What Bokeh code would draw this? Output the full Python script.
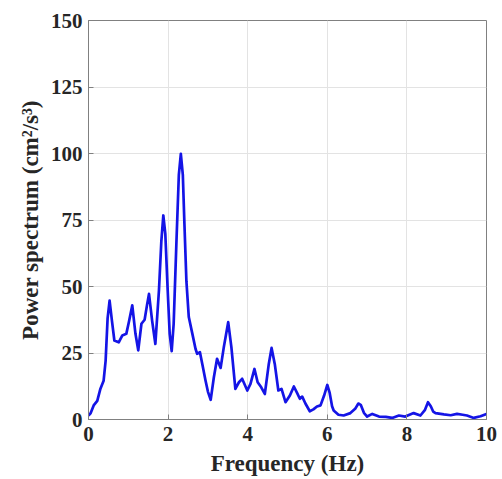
from bokeh.plotting import figure
from bokeh.embed import file_html
from bokeh.resources import INLINE
from bokeh.models import Range1d, FixedTicker

freq = [0.0, 0.05, 0.13, 0.22, 0.30, 0.38, 0.43, 0.48, 0.53, 0.59, 0.65, 0.76, 0.85, 0.95,
        1.02, 1.10, 1.18, 1.25, 1.33, 1.41, 1.47, 1.52, 1.60, 1.68, 1.77, 1.83, 1.88, 1.93,
        1.99, 2.04, 2.09, 2.14, 2.21, 2.27, 2.32, 2.37, 2.41, 2.46, 2.52, 2.61, 2.69, 2.73,
        2.80, 2.87, 2.94, 3.00, 3.07, 3.15, 3.23, 3.32, 3.40, 3.51, 3.59, 3.69, 3.78, 3.86,
        3.99, 4.07, 4.17, 4.25, 4.34, 4.43, 4.53, 4.60, 4.68, 4.77, 4.85, 4.95, 5.06, 5.16,
        5.24, 5.31, 5.37, 5.45, 5.56, 5.65, 5.74, 5.83, 5.92, 6.00, 6.06, 6.12, 6.16, 6.28,
        6.41, 6.58, 6.70, 6.78, 6.84, 6.92, 7.00, 7.13, 7.30, 7.47, 7.63, 7.80, 7.96, 8.17,
        8.34, 8.45, 8.53, 8.60, 8.66, 8.72, 8.93, 9.10, 9.26, 9.40, 9.51, 9.68, 9.85, 10.0]
power = [1.5, 2.3, 5.3, 7.0, 11.6, 14.6, 22.0, 38.0, 44.7, 37.0, 29.7, 29.0, 31.6, 32.2,
         37.0, 42.9, 32.2, 26.0, 36.0, 37.5, 43.0, 47.2, 37.0, 28.4, 48.5, 67.0, 76.7, 69.8,
         48.5, 32.2, 25.7, 36.0, 67.0, 92.0, 99.9, 92.0, 73.6, 52.0, 38.5, 32.2, 26.5, 24.7,
         25.3, 20.0, 14.7, 10.5, 7.4, 15.9, 22.8, 19.4, 27.2, 36.6, 27.2, 11.5, 14.0, 15.3,
         10.9, 13.4, 19.0, 14.0, 12.1, 9.6, 20.9, 26.9, 20.9, 10.9, 11.5, 6.5, 9.0, 12.4,
         10.0, 7.8, 8.6, 6.0, 3.1, 3.8, 4.9, 5.3, 9.0, 13.0, 10.0, 5.0, 3.4, 1.8,
         1.5, 2.4, 4.0, 6.0, 5.5, 2.5, 1.1, 2.1, 1.1, 1.0, 0.6, 1.5, 1.1, 2.4,
         1.5, 3.5, 6.5, 5.0, 3.0, 2.4, 1.9, 1.6, 2.1, 1.8, 1.5, 0.6, 1.2, 2.1]

x_ticks = [0, 2, 4, 6, 8, 10]
y_ticks = [0, 25, 50, 75, 100, 125, 150]

font = "Liberation Serif"

p = figure(width=502, height=479, output_backend="svg", toolbar_location=None,
           x_range=Range1d(0, 10), y_range=Range1d(0, 150),
           min_border_left=88, min_border_right=16, min_border_top=20, min_border_bottom=60)

p.line(freq, power, line_color="#1414e6", line_width=2.7, line_join="round")

p.xaxis.ticker = FixedTicker(ticks=x_ticks)
p.yaxis.ticker = FixedTicker(ticks=y_ticks)
for ax in (p.xaxis[0], p.yaxis[0]):
    ax.major_label_text_font = font
    ax.major_label_text_font_style = "bold"
    ax.major_label_text_font_size = "21px"
    ax.major_label_text_color = "#262626"
    ax.axis_label_text_font = font
    ax.axis_label_text_font_style = "bold"
    ax.axis_label_text_font_size = "23px"
    ax.axis_label_text_color = "#262626"
    ax.axis_line_color = "#808080"
    ax.major_tick_line_color = "#808080"
    ax.major_tick_in = 5
    ax.major_tick_out = 0
    ax.minor_tick_line_color = None

p.xaxis.axis_label = "Frequency (Hz)"
p.yaxis.axis_label = "Power spectrum (cm²/s³)"
p.xaxis.major_label_standoff = 7
p.xaxis.axis_label_standoff = 7
p.yaxis.major_label_standoff = 6
p.yaxis.axis_label_standoff = 5

p.xgrid.ticker = FixedTicker(ticks=x_ticks)
p.ygrid.ticker = FixedTicker(ticks=y_ticks)
p.grid.grid_line_color = "#e3e3e3"
p.grid.grid_line_width = 1
p.outline_line_color = "#808080"
p.outline_line_width = 1
p.background_fill_color = "white"
p.border_fill_color = "white"

open("out.html", "w").write(file_html(p, INLINE))
